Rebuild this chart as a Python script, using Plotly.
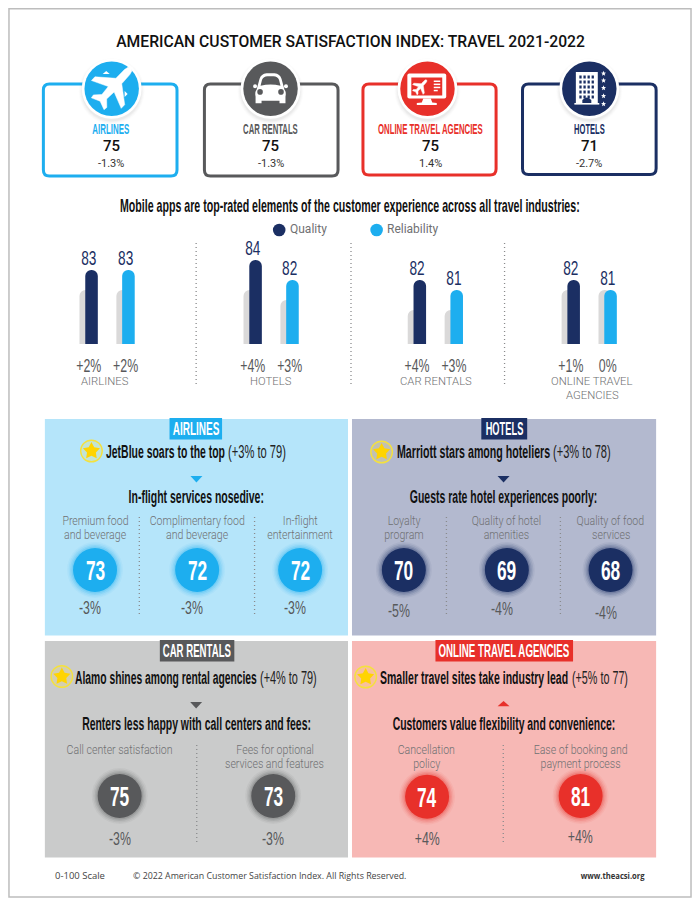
import json
import math
import plotly.graph_objects as go

# ---------- DATA ----------
title = "AMERICAN CUSTOMER SATISFACTION INDEX: TRAVEL 2021-2022"
subtitle = "Mobile apps are top-rated elements of the customer experience across all travel industries:"
kpi_names = ["AIRLINES", "CAR RENTALS", "ONLINE TRAVEL AGENCIES", "HOTELS"]
kpi_scores = ["75", "75", "75", "71"]
kpi_changes = ["-1.3%", "-1.3%", "1.4%", "-2.7%"]

app_categories = ["Quality", "Reliability"]
app_industries = ["AIRLINES", "HOTELS", "CAR RENTALS", "ONLINE TRAVEL<br>AGENCIES"]
app_current = [[83, 83], [84, 82], [82, 81], [82, 81]]
app_prior = [[81, 81], [81, 80], [79, 79], [81, 81]]
app_change = [["+2%", "+2%"], ["+4%", "+3%"], ["+4%", "+3%"], ["+1%", "0%"]]

air_labels = [["Premium food", "and beverage"], ["Complimentary food", "and beverage"], ["In-flight", "entertainment"]]
air_scores = [73, 72, 72]
air_changes = ["-3%", "-3%", "-3%"]
hotel_labels = [["Loyalty", "program"], ["Quality of hotel", "amenities"], ["Quality of food", "services"]]
hotel_scores = [70, 69, 68]
hotel_changes = ["-5%", "-4%", "-4%"]
car_labels = [["Call center satisfaction"], ["Fees for optional", "services and features"]]
car_scores = [75, 73]
car_changes = ["-3%", "-3%"]
ota_labels = [["Cancellation", "policy"], ["Ease of booking and", "payment process"]]
ota_scores = [74, 81]
ota_changes = ["+4%", "+4%"]

# ---------- STYLE ----------
W, H = 700, 906
NARROW = "Liberation Sans Narrow, Liberation Sans, sans-serif"
BODY = "Roboto, sans-serif"
BLUE, GREY, RED, NAVY = "#1DAEEF", "#58595B", "#E8302A", "#1B2F63"
TXT = "#6F7072"
shapes, notes = [], []
targets = {}   # "text|font size" -> width in px that the condensed face occupied
# font size -> how much the text of that size is narrowed, where no exact width is given
squeeze = {28: 0.62, 19: 0.65, 19.5: 0.7, 12.3: 0.86}


def txt(x, y, s, size, color="#111", family=NARROW, anchor="center", weight=None, width=None):
    f = dict(size=size, color=color, family=family)
    if weight:
        f["weight"] = weight
    notes.append(dict(x=x, y=y, xref="x", yref="y", text=s, showarrow=False, borderpad=0, borderwidth=0,
                      xanchor=anchor, yanchor="middle", align=anchor, font=f))
    if width:
        targets[f"{s}|{size}"] = width


def rect(x0, y0, x1, y1, fill, line=None, lw=0):
    shapes.append(dict(type="rect", xref="x", yref="y", x0=x0, y0=y0, x1=x1, y1=y1, layer="below",
                       fillcolor=fill, line=dict(color=line or fill, width=lw)))


def circle(cx, cy, r, fill, opacity=1, line=None, lw=0):
    shapes.append(dict(type="circle", xref="x", yref="y", x0=cx - r, y0=cy - r, x1=cx + r, y1=cy + r,
                       layer="below", fillcolor=fill, opacity=opacity,
                       line=dict(color=line or fill, width=lw)))


def path(d, fill=None, line=None, lw=0):
    shapes.append(dict(type="path", xref="x", yref="y", path=d, layer="below",
                       fillcolor=fill or "rgba(0,0,0,0)", line=dict(color=line or "rgba(0,0,0,0)", width=lw)))


def poly(pts, fill, line=None, lw=0):
    path("M " + " L ".join(f"{a:.2f},{b:.2f}" for a, b in pts) + " Z", fill, line, lw)


def star(cx, cy, r, fill, ratio=0.42):
    pts = []
    for i in range(10):
        a = -math.pi / 2 + i * math.pi / 5
        rr = r if i % 2 == 0 else r * ratio
        pts.append((cx + rr * math.cos(a), cy + rr * math.sin(a)))
    poly(pts, fill)


def vdots(x, y0, y1, color="#8A8B8D"):
    shapes.append(dict(type="line", xref="x", yref="y", x0=x, x1=x, y0=y0, y1=y1, layer="below",
                       line=dict(color=color, width=1.3, dash="1px,3px")))


def plane(cx, cy, scale, angle, fill):
    half = [(24, 0), (22, 2.6), (18, 3.6), (6, 3.9), (-7, 20), (-12, 20), (-5, 3.9),
            (-15, 3.2), (-21, 9), (-24.5, 8.5), (-21, 0)]
    loc = half + [(u, -v) for u, v in reversed(half[1:-1])]
    c, s = math.cos(angle), math.sin(angle)
    poly([(cx + scale * (u * c - v * s), cy + scale * (u * s + v * c)) for u, v in loc], fill, fill, 0.5)


# ---------- FRAME ----------
rect(8, 8.7, 692, 897, "white", "#BDBDBD", 1.5)

# ---------- KPI BOXES ----------
box_l = [42.5, 204, 363, 523]
box_r = [176.5, 338, 496.5, 657]
box_b = [176, 176, 175, 174.5]
box_c = [BLUE, GREY, RED, NAVY]
icon_x = [111, 270.3, 427.7, 590]
icon_y = 88.7
kpi_w = [37, 54.7, 105, 30.7]
kpi_tx = [110.5, 270.5, 430.5, 590]
for i in range(4):
    l, r, t, b = box_l[i], box_r[i], 84, box_b[i]
    rd = 6
    path(f"M {l+rd},{t} L {r-rd},{t} Q {r},{t} {r},{t+rd} L {r},{b-rd} Q {r},{b} {r-rd},{b} "
         f"L {l+rd},{b} Q {l},{b} {l},{b-rd} L {l},{t+rd} Q {l},{t} {l+rd},{t} Z", "white", box_c[i], 3)
    cx = icon_x[i]
    for k, a in [(4, .025), (3, .035), (2, .045), (1, .05)]:
        circle(cx, icon_y + 2.5, 29 + k, "#777777", a)
    circle(cx, icon_y, 30, "white")
    circle(cx, icon_y, 27.3, box_c[i])
    txt(kpi_tx[i], 128.5, kpi_names[i], 14.5, box_c[i], width=kpi_w[i], weight=700)
    txt(kpi_tx[i], 146, kpi_scores[i], 15, "#111", "Roboto, sans-serif", weight=500)
    txt(kpi_tx[i], 163, kpi_changes[i], 11, "#333", BODY)

# plane icon
plane(114, 85.5, 1.02, math.radians(-47), "white")
poly([(102, 74), (109, 74), (105.5, 71)], "white")
poly([(124, 91), (124, 97), (127, 94)], "white")

# car icon
cx, cy = 270.3, 88.7
path(f"M {cx-14},{cy+1} L {cx-11},{cy-10} Q {cx-9.5},{cy-15} {cx-4},{cy-15.5} L {cx+4},{cy-15.5} "
     f"Q {cx+9.5},{cy-15} {cx+11},{cy-10} L {cx+14},{cy+1} Q {cx+16},{cy+3} {cx+15},{cy+8} "
     f"L {cx+15},{cy+14.5} L {cx+9},{cy+14.5} L {cx+9},{cy+12} L {cx-9},{cy+12} L {cx-9},{cy+14.5} "
     f"L {cx-15},{cy+14.5} L {cx-15},{cy+8} Q {cx-16},{cy+3} {cx-14},{cy+1} Z", "white")
path(f"M {cx-10},{cy-3} L {cx-8.5},{cy-9} Q {cx-7},{cy-12.5} {cx-3},{cy-12.5} L {cx+3},{cy-12.5} "
     f"Q {cx+7},{cy-12.5} {cx+8.5},{cy-9} L {cx+10},{cy-3} Q {cx},{cy-5.5} {cx-10},{cy-3} Z", GREY)
circle(cx - 10.5, cy + 3.2, 2.8, GREY)
circle(cx + 10.5, cy + 3.2, 2.8, GREY)
circle(cx - 15.5, cy - 2.5, 2, "white")
circle(cx + 15.5, cy - 2.5, 2, "white")

# monitor icon
path("M 409.5,73.5 L 444.5,73.5 Q 446.5,73.5 446.5,75.5 L 446.5,96.5 Q 446.5,98.5 444.5,98.5 L 409.5,98.5 "
     "Q 407.5,98.5 407.5,96.5 L 407.5,75.5 Q 407.5,73.5 409.5,73.5 Z", "white")
rect(411.5, 77.5, 442.5, 95.5, RED)
poly([(423.5, 98.5), (431, 98.5), (432.5, 102.5), (437, 103), (437, 105), (417, 105), (417, 103), (422, 102.5)], "white")
plane(421, 86.3, 0.36, math.radians(-47), "white")
for yy in [80.5, 83.6, 86.7, 89.8]:
    rect(434, yy, 440.5 if yy < 88 else 438, yy + 1.5, "white")

# hotel icon
rect(576.5, 72, 598.5, 103.5, "white")
rect(575, 103, 600, 104.6, "white")
for r_ in range(5):
    for c_ in range(4):
        rect(580 + c_ * 4.1, 75.5 + r_ * 5, 582.3 + c_ * 4.1, 78.5 + r_ * 5, NAVY)
path("M 583,103 L 583,100 Q 587.5,95 592,100 L 592,103 Z", NAVY)
for yy in [73.5, 80.5, 88, 96, 104]:
    star(604.3, yy, 2.7, "white")

# ---------- TITLES ----------
txt(350, 41, title, 16.5, "#111", "Roboto, sans-serif", weight=500, width=469)
txt(350, 206, subtitle, 17.5, "#111", width=460, weight=700)

# legend
circle(279, 230, 6.3, NAVY)
txt(290, 229, app_categories[0], 12, TXT, BODY, "left")
circle(376.7, 230, 6.3, BLUE)
txt(387, 229, app_categories[1], 12, TXT, BODY, "left")

for x in [195.7, 351, 505]:
    vdots(x, 243, 385)

# ---------- PANELS ----------
panels = [
    dict(x0=44, y0=419, x1=348, y1=635.5, fill="#B5E5FA", col=BLUE, name="AIRLINES", tag=(169, 221.7), tw=46.7,
         head="JetBlue soars to the top", tail="(+3% to 79)", star=(90.7, 451), hx=(105, 224), tx=(228, 286),
         sub="In-flight services nosedive:", sw=135.5, cx=[94.3, 196.7, 300], lx=[94.3, 196.7, 300],
         px=[89, 192, 295], py=[607, 607, 607], cy=[570, 570, 570], labels=air_labels, scores=air_scores,
         changes=air_changes, dots=[138.7, 254.3], mid=196, up=False, ly=521, off=(32, 57, 77.7, 98, 196)),
    dict(x0=352, y0=419, x1=657, y1=635.5, fill="#B3B9CF", col=NAVY, name="HOTELS", tag=(481.7, 527.7), tw=37.7,
         head="Marriott stars among hoteliers", tail="(+3% to 78)", star=(381.7, 452), hx=(396.7, 550), tx=(554, 611.7),
         sub="Guests rate hotel experiences poorly:", sw=187.7, cx=[404, 507.3, 611.3], lx=[404, 507.3, 611.3],
         px=[399, 502.3, 606.7], py=[610.7, 608.3, 612.3], cy=[570, 570, 570], labels=hotel_labels,
         scores=hotel_scores, changes=hotel_changes, dots=[446.7, 561], mid=504, up=False, ly=521,
         off=(32, 57, 77.7, 98, 196)),
    dict(x0=44, y0=641, x1=348, y1=857.5, fill="#CACBCB", col=GREY, name="CAR RENTALS", tag=(159.3, 234), tw=68.3,
         head="Alamo shines among rental agencies", tail="(+4% to 79)", star=(61, 676.5), hx=(74.7, 256.7), tx=(259.3, 316),
         sub="Renters less happy with call centers and fees:", sw=229, cx=[119, 273], lx=[118.7, 274.3],
         px=[119, 273], py=[838.3, 838.3], cy=[796, 796], labels=car_labels, scores=car_scores,
         changes=car_changes, dots=[196.3], mid=195.7, up=False, ly=750, off=(36, 61, 82.7, 104, 201)),
    dict(x0=352, y0=641, x1=657, y1=857.5, fill="#F7B8B5", col=RED, name="ONLINE TRAVEL AGENCIES", tag=(435.7, 573.7),
         tw=131, head="Smaller travel sites take industry lead", tail="(+5% to 77)", star=(365.7, 677), hx=(379.7, 568),
         tx=(572.3, 628.3), sub="Customers value flexibility and convenience:", sw=222.7, cx=[427.3, 581.3],
         lx=[427, 581.3], px=[427.3, 581.3], py=[838, 836], cy=[796.7, 796], labels=ota_labels, scores=ota_scores,
         changes=ota_changes, dots=[503.7], mid=504, up=True, ly=750, off=(36, 60, 82.7, 104, 201)),
]

score_x, score_y, score_c = [], [], []
for p in panels:
    rect(p["x0"], p["y0"], p["x1"], p["y1"], p["fill"])
    y = p["y0"]
    oh, ot, os_, od0, od1 = p["off"]
    rect(p["tag"][0], y - 1, p["tag"][1], y + 20.5, p["col"])
    txt(sum(p["tag"]) / 2, y + 10, p["name"], 18, "white", width=p["tw"], weight=700)
    sx, sy = p["star"]
    shapes.append(dict(type="circle", xref="x", yref="y", x0=sx - 10.8, y0=sy - 10.8, x1=sx + 10.8, y1=sy + 10.8,
                       layer="below", fillcolor="rgba(255,225,60,0.2)", line=dict(color="#F4E13E", width=1.4)))
    star(sx, sy, 9, "#FFD400", 0.52)
    txt(p["hx"][0], y + oh, p["head"], 19, "#111", NARROW, "left", weight=700, width=p["hx"][1] - p["hx"][0])
    txt(p["tx"][0], y + oh, p["tail"], 18.5, "#222", NARROW, "left", width=p["tx"][1] - p["tx"][0])
    m = p["mid"]
    if p["up"]:
        poly([(m - 6, y + ot + 5.3), (m + 6, y + ot + 5.3), (m, y + ot)], p["col"])
    else:
        poly([(m - 6, y + ot), (m + 6, y + ot), (m, y + ot + 6.5)], p["col"])
    txt(m, y + os_, p["sub"], 18.5, "#111", width=p["sw"], weight=700)
    for d in p["dots"]:
        vdots(d, y + od0, y + od1)
    for i in range(len(p["scores"])):
        for j, ln in enumerate(p["labels"][i]):
            txt(p["lx"][i], p["ly"] + j * 14, ln, 12.3, TXT, BODY, weight=300)
        for k, a in [(6, .06), (4.5, .09), (3, .14), (1.5, .2)]:
            circle(p["cx"][i], p["cy"][i], 22 + k, p["col"], a)
        score_x.append(p["cx"][i])
        score_y.append(p["cy"][i])
        score_c.append(p["col"])
        txt(p["cx"][i], p["cy"][i] + 0.5, str(p["scores"][i]), 28, "white", weight=700)
        txt(p["px"][i], p["py"][i], p["changes"][i], 19, "#58595B")

# ---------- FOOTER ----------
FOOT = "Open Sans, sans-serif"
txt(54, 875.7, "0-100 Scale", 9.5, "#444", FOOT, "left", width=50)
txt(132, 875.7, "© 2022 American Customer Satisfaction Index. All Rights Reserved.", 9.5, "#444", FOOT, "left", width=274)
txt(646, 875.7, "www.theacsi.org", 9.5, "#333", FOOT, "right", width=64, weight=700)

# ---------- BAR LABELS ----------
ind_x = [104.3, 270.7, 436.7, 593]
for i, s in enumerate(app_industries):
    for j, ln in enumerate(s.split("<br>")):
        txt(ind_x[i], 381.5 + j * 14, ln, 11.3, TXT, BODY, weight=300)

# ---------- FIGURE ----------
fig = go.Figure()
fig.add_trace(go.Scatter(x=score_x, y=score_y, mode="markers", hoverinfo="skip",
                         marker=dict(size=44, color=score_c, line=dict(width=0))))

group_c0 = [88, 252.5, 417.2, 571.5]   # pixel centre of each group's first slot
SLOT = 37.0
BASE_PX, TOP_PX = 344, 240
Y_RANGE = [75.6, 86]
layout_axes = {}
for i in range(4):
    n = i + 2
    fig.add_trace(go.Bar(x=app_categories, y=app_prior[i], xaxis=f"x{n}", yaxis="y2", hoverinfo="skip",
                         width=12.6 / SLOT, offset=-9.3 / SLOT,
                         marker=dict(color="#DAD9D9", cornerradius=6, line=dict(width=0))))
    fig.add_trace(go.Bar(x=app_categories, y=app_current[i], xaxis=f"x{n}", yaxis="y2", hoverinfo="skip",
                         width=12.6 / SLOT, offset=-3.5 / SLOT,
                         marker=dict(color=[NAVY, BLUE], cornerradius=6, line=dict(width=0))))
    fig.add_trace(go.Scatter(x=app_categories, y=app_current[i], text=[str(v) for v in app_current[i]],
                             xaxis=f"x{n}", yaxis="y2", mode="text", hoverinfo="skip", cliponaxis=False,
                             textposition="top center",
                             textfont=dict(family=NARROW, size=19.5, color=NAVY)))
    l = group_c0[i] - SLOT / 2
    layout_axes[f"xaxis{n}"] = dict(domain=[l / W, (l + 2 * SLOT) / W], anchor="y2", type="category",
                                    categoryorder="array", categoryarray=app_categories,
                                    range=[-0.5, 1.5], showgrid=False, zeroline=False, showline=False,
                                    ticks="", tickmode="array", tickvals=app_categories, ticktext=app_change[i],
                                    ticklabelstandoff=8, tickangle=0,
                                    tickfont=dict(family=NARROW, size=19, color="#58595B"))

fig.update_layout(
    width=W, height=H, margin=dict(l=0, r=0, t=0, b=0), autosize=False,
    paper_bgcolor="white", plot_bgcolor="rgba(0,0,0,0)", showlegend=False, barmode="overlay",
    shapes=shapes, annotations=notes,
    xaxis=dict(domain=[0, 1], range=[0, W], visible=False, fixedrange=True),
    yaxis=dict(domain=[0, 1], range=[H, 0], visible=False, fixedrange=True),
    yaxis2=dict(domain=[(H - BASE_PX) / H, (H - TOP_PX) / H], range=Y_RANGE, anchor="x2", visible=False),
    **layout_axes,
)

# No condensed face is installed: narrow the real text to the widths it has in the reference.
post = """
document.body.style.margin='0';document.body.style.overflow='hidden';
(function(){
var T=%s, S=%s;
function run(){
 document.querySelectorAll('svg text').forEach(function(e){
  if(e.getAttribute('data-narrowed'))return;
  var t=e.textContent; if(!t)return;
  var fs=parseFloat(e.style.fontSize), n=e.getComputedTextLength(), w=T[t+'|'+fs], s;
  if(w){s=w/n;}else if(S[fs]){s=S[fs];}else{return;}
  var a=parseFloat(e.getAttribute('x'))||0, old=e.getAttribute('transform')||'';
  e.setAttribute('transform',old+' translate('+a+',0) scale('+s.toFixed(4)+',1) translate('+(-a)+',0)');
  e.setAttribute('data-narrowed','1');
  var r=e.parentNode.querySelector('rect.bg');
  if(r){var ww=n*s, x=parseFloat(r.getAttribute('x'))||0, rw=parseFloat(r.getAttribute('width'))||0;
   var anc=e.getAttribute('text-anchor')||'start';
   var nx=anc==='middle'?a-ww/2:(anc==='end'?a-ww:a);
   r.setAttribute('x',nx);r.setAttribute('width',ww);}
 });
}
run();setTimeout(run,150);setTimeout(run,600);
})();
""" % (json.dumps(targets), json.dumps(squeeze))
fig.write_html("out.html", config=dict(displayModeBar=False), post_script=post)
